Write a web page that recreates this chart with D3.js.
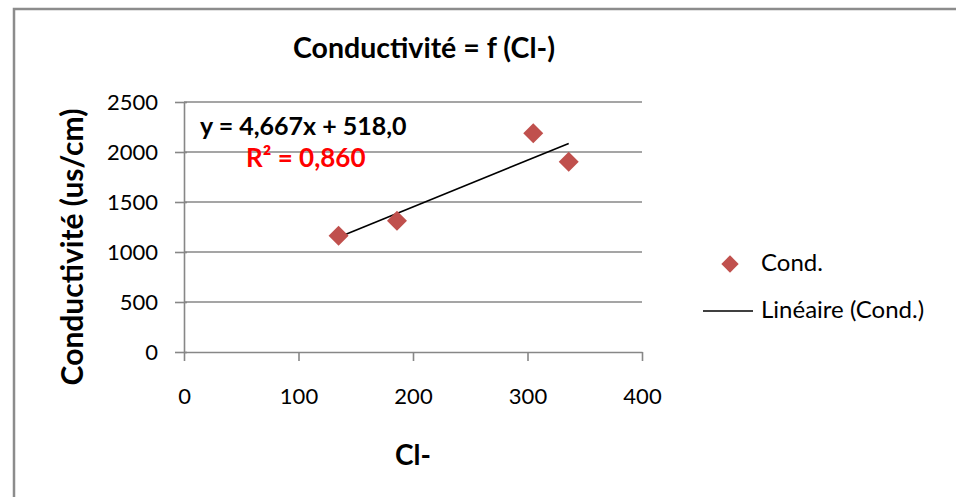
<!DOCTYPE html>
<html>
<head>
<meta charset="utf-8">
<script src="https://cdn.jsdelivr.net/npm/d3@7"></script>
<style>
  html, body { margin: 0; padding: 0; background: #fff; }
  svg { display: block; }
  text { font-family: Lato, "Open Sans", "Liberation Sans", sans-serif; }
</style>
</head>
<body>
<svg id="chart" width="956" height="497"></svg>
<script>
// Chlorure (Cl-) vs conductivité measurements
const chlorure = [135, 186, 305, 336];
const conductivite = [1163, 1313, 2187, 1903];

// Linear trend line reported on the chart
const pente = 4.667;
const ordonnee = 518.0;
const r2 = 0.860;

const xTicks = [0, 100, 200, 300, 400];
const yTicks = [0, 500, 1000, 1500, 2000, 2500];

const titre = "Conductivité = f (Cl-)";
const titreX = "Cl-";
const titreY = "Conductivité (us/cm)";
const legendeSerie = "Cond.";
const legendeTendance = "Linéaire (Cond.)";

const gris = "#878787";
const rouge = "#C0504D";

const svg = d3.select("#chart");

// outer chart frame
svg.append("rect")
  .attr("x", 14).attr("y", 9)
  .attr("width", 980).attr("height", 520)
  .attr("fill", "#fff")
  .attr("stroke", "#8c8c8c")
  .attr("stroke-width", 2.5);

const x = d3.scaleLinear().domain([0, 400]).range([184, 642]);
const y = d3.scaleLinear().domain([0, 2500]).range([352, 102]);

// horizontal gridlines
svg.append("g")
  .selectAll("line")
  .data(yTicks.filter(v => v > 0))
  .join("line")
  .attr("x1", x(0)).attr("x2", x(400))
  .attr("y1", d => y(d)).attr("y2", d => y(d))
  .attr("stroke", gris).attr("stroke-width", 1.6);

// Y axis
const axeY = svg.append("g")
  .attr("transform", `translate(${x(0)},0)`)
  .call(d3.axisLeft(y).tickValues(yTicks).tickFormat(d3.format("d"))
    .tickSize(9).tickSizeOuter(0).tickPadding(17));
axeY.select(".domain").attr("stroke", gris).attr("stroke-width", 1.6);
axeY.selectAll(".tick line").attr("stroke", gris).attr("stroke-width", 1.6).attr("x2", -9).attr("x1", 3);
axeY.selectAll(".tick text")
  .attr("fill", "#000").style("font-size", "22px").attr("dy", "0.34em");

// X axis
const axeX = svg.append("g")
  .attr("transform", `translate(0,${y(0)})`)
  .call(d3.axisBottom(x).tickValues(xTicks).tickFormat(d3.format("d"))
    .tickSize(9).tickSizeOuter(0).tickPadding(27));
axeX.select(".domain").attr("stroke", gris).attr("stroke-width", 1.6);
axeX.selectAll(".tick line").attr("stroke", gris).attr("stroke-width", 1.6);
axeX.selectAll(".tick text")
  .attr("fill", "#000").style("font-size", "22px");

// trend line over the measured range
const xmin = d3.min(chlorure), xmax = d3.max(chlorure);
svg.append("line")
  .attr("x1", x(xmin)).attr("y1", y(pente * xmin + ordonnee))
  .attr("x2", x(xmax)).attr("y2", y(pente * xmax + ordonnee))
  .attr("stroke", "#000").attr("stroke-width", 1.6);

// data points (diamonds)
const losange = d3.symbol().type(d3.symbolSquare).size(200);
svg.append("g")
  .selectAll("path")
  .data(chlorure.map((c, i) => [c, conductivite[i]]))
  .join("path")
  .attr("d", losange)
  .attr("transform", d => `translate(${x(d[0])},${y(d[1])}) rotate(45)`)
  .attr("fill", rouge);

// equation and R²
const fmt = v => d3.format(".3f")(v).replace(".", ",");
svg.append("text")
  .attr("x", 200).attr("y", 135)
  .style("font-size", "25px").style("font-weight", "bold")
  .attr("fill", "#000")
  .text(`y = ${fmt(pente)}x + ${d3.format(".1f")(ordonnee).replace(".", ",")}`);
svg.append("text")
  .attr("x", 246).attr("y", 167)
  .style("font-size", "26px").style("font-weight", "bold")
  .attr("fill", "#FF0000")
  .text(`R² = ${fmt(r2)}`);

// titles
svg.append("text")
  .attr("x", 424).attr("y", 58)
  .attr("text-anchor", "middle")
  .style("font-size", "28.5px").style("font-weight", "bold")
  .text(titre);
svg.append("text")
  .attr("x", 413).attr("y", 465)
  .attr("text-anchor", "middle")
  .style("font-size", "28px").style("font-weight", "bold")
  .text(titreX);
svg.append("text")
  .attr("transform", "translate(83,247) rotate(-90)")
  .attr("text-anchor", "middle")
  .style("font-size", "30px").style("font-weight", "bold")
  .text(titreY);

// legend
const leg = svg.append("g");
leg.append("path")
  .attr("d", d3.symbol().type(d3.symbolSquare).size(150))
  .attr("transform", "translate(730,264) rotate(45)")
  .attr("fill", rouge);
leg.append("text")
  .attr("x", 761).attr("y", 271)
  .style("font-size", "24px")
  .text(legendeSerie);
leg.append("line")
  .attr("x1", 703).attr("x2", 753)
  .attr("y1", 311).attr("y2", 311)
  .attr("stroke", "#000").attr("stroke-width", 1.6);
leg.append("text")
  .attr("x", 761).attr("y", 318)
  .style("font-size", "24px")
  .text(legendeTendance);
</script>
</body>
</html>
